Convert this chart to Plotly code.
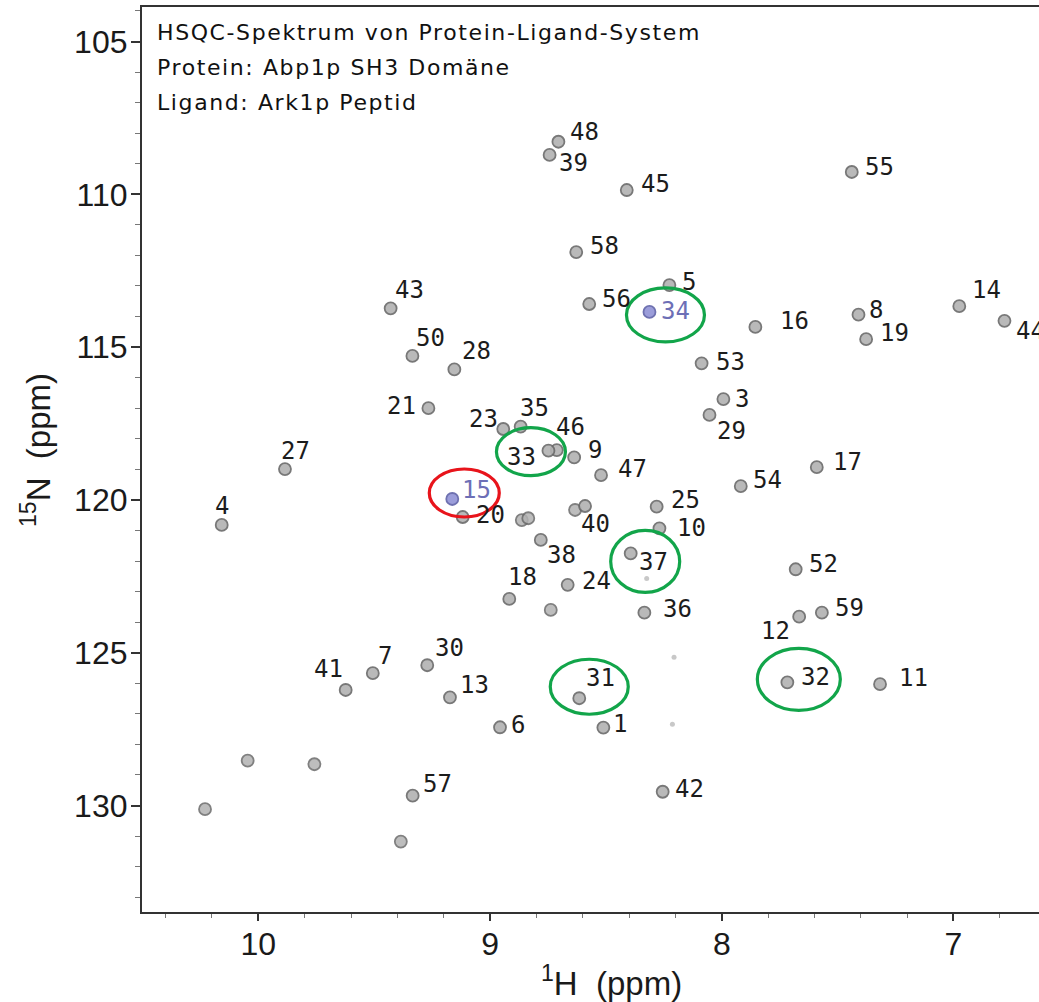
import plotly.graph_objects as go

# ---------------- data ----------------
peak_labels = ["48", "39", "45", "55", "58", "5", "56", "34", "16", "8", "19", "14", "44", "53",
               "43", "50", "28", "21", "23", "35", "46", "33", "9", "47", "27", "4", "15", "20",
               "40", "38", "18", "24", "25", "10", "37", "36", "3", "29", "54", "17", "52", "12",
               "59", "30", "41", "7", "13", "6", "57", "31", "1", "42", "32", "11"]
peak_H = [8.705, 8.743, 8.410, 7.439, 8.628, 8.226, 8.572, 8.312, 7.855, 7.410, 7.377, 6.975, 6.780, 8.087,
          9.429, 9.335, 9.154, 9.266, 8.943, 8.868, 8.712, 8.748, 8.637, 8.521, 9.885, 10.158, 9.163, 9.118,
          8.590, 8.781, 8.917, 8.665, 8.281, 8.269, 8.393, 8.334, 7.993, 8.053, 7.918, 7.590, 7.681, 7.666,
          7.568, 9.271, 9.623, 9.506, 9.173, 8.957, 9.334, 8.615, 8.511, 8.255, 7.717, 7.317]
peak_N = [108.28, 108.71, 109.86, 109.27, 111.89, 112.97, 113.59, 113.85, 114.34, 113.94, 114.74, 113.66, 114.14, 115.53,
          113.73, 115.29, 115.73, 117.00, 117.68, 117.60, 118.37, 118.39, 118.61, 119.19, 118.99, 120.82, 119.97, 120.56,
          120.20, 121.31, 123.24, 122.78, 120.22, 120.93, 121.75, 123.69, 116.70, 117.22, 119.55, 118.93, 122.27, 123.82,
          123.69, 125.41, 126.22, 125.67, 126.46, 127.44, 129.68, 126.49, 127.45, 129.55, 125.97, 126.03]

# unlabelled cross peaks
extra_H = [8.633, 8.863, 8.835, 8.738, 10.046, 9.758, 10.230, 9.385]
extra_N = [120.33, 120.66, 120.60, 123.60, 128.53, 128.65, 130.12, 131.18]

# very weak peaks
faint_H = [8.324, 8.206, 8.213]
faint_N = [122.57, 125.15, 127.34]

blue_labels = ["15", "34"]
green_marked = ["34", "33", "37", "31", "32"]
red_marked = ["15"]

x_ticks = [10, 9, 8, 7]
y_ticks = [105, 110, 115, 120, 125, 130]

info_lines = ["HSQC-Spektrum von Protein-Ligand-System",
              "Protein: Abp1p SH3 Domäne",
              "Ligand: Ark1p Peptid"]

# ---------------- layout helpers (pixel offsets of the labels) ----------------
label_offset = {
    "48": (26, -10), "39": (24, 8), "45": (29, -6), "55": (28, -5), "58": (28, -6), "5": (20, -3),
    "56": (27, -5), "34": (26, -1), "16": (39, -6), "8": (18, -5), "19": (28, -6), "14": (27, -16),
    "44": (26, 10), "53": (29, -1), "43": (19, -18), "50": (18, -18), "28": (22, -18), "21": (-27, -2),
    "23": (-20, -10), "35": (14, -19), "46": (14, -23), "33": (-27, 6), "9": (21, -7), "47": (31, -6),
    "27": (11, -18), "4": (0, -19), "15": (24, -9), "20": (28, -2), "40": (10, 18), "38": (21, 15),
    "18": (13, -22), "24": (29, -4), "25": (29, -7), "10": (32, 0), "37": (23, 9), "36": (33, -4),
    "3": (19, 0), "29": (22, 16), "54": (27, -6), "17": (31, -5), "52": (28, -5), "12": (-24, 14),
    "59": (28, -5), "30": (22, -17), "41": (-17, -21), "7": (12, -17), "13": (25, -12), "6": (18, -2),
    "57": (25, -12), "31": (21, -20), "1": (17, -4), "42": (27, -3), "32": (28, -5), "11": (33, -6),
}
# ellipse extents around marked peaks: (left, right, top, bottom) in screen pixels
ellipse_px = {
    "34": (-23, 55, -24, 30), "33": (-52, 17, -23, 25), "37": (-20, 49, -23, 39),
    "31": (-29, 49, -39, 16), "32": (-30, 53, -34, 28), "15": (-23, 47, -30, 18),
}

GRAY_FILL = "#b2b2b2"
GRAY_LINE = "#6a6a6a"
BLUE_FILL = "#9193d6"
BLUE_LINE = "#5f62a8"

fig = go.Figure()

# weak peaks
fig.add_trace(go.Scatter(x=faint_H, y=faint_N, mode="markers", hoverinfo="skip",
                         marker=dict(size=5, color="#c8c8c8", line=dict(width=0))))
# unlabelled peaks
fig.add_trace(go.Scatter(x=extra_H, y=extra_N, mode="markers", hoverinfo="skip",
                         marker=dict(size=12, color=GRAY_FILL, opacity=0.85,
                                     line=dict(width=1.8, color=GRAY_LINE))))
# labelled peaks
fills = [BLUE_FILL if l in blue_labels else GRAY_FILL for l in peak_labels]
lines = [BLUE_LINE if l in blue_labels else GRAY_LINE for l in peak_labels]
fig.add_trace(go.Scatter(x=peak_H, y=peak_N, mode="markers", text=peak_labels,
                         marker=dict(size=12, color=fills, opacity=0.9,
                                     line=dict(width=1.8, color=lines))))

# peak numbers
for lab, h, n in zip(peak_labels, peak_H, peak_N):
    dx, dy = label_offset[lab]
    fig.add_annotation(x=h, y=n, xref="x", yref="y", text=lab, showarrow=False,
                       xanchor="center", yanchor="middle", xshift=dx, yshift=-dy,
                       font=dict(family="DejaVu Sans Mono", size=24,
                                 color="#6d6fb6" if lab in blue_labels else "#1c1c1c"))

# marking ellipses
for lab, h, n in zip(peak_labels, peak_H, peak_N):
    if lab in green_marked or lab in red_marked:
        l, r, t, b = ellipse_px[lab]
        fig.add_shape(type="circle", xref="x", yref="y", xsizemode="pixel", ysizemode="pixel",
                      xanchor=h, yanchor=n, x0=l, x1=r, y0=-t, y1=-b,
                      line=dict(color="#e8141b" if lab in red_marked else "#12a54a", width=3.2),
                      fillcolor="rgba(0,0,0,0)")

# info text
for i, line in enumerate(info_lines):
    fig.add_annotation(xref="paper", yref="paper", x=0.0145, y=1 - (26 + i * 34.7) / 905,
                       xanchor="left", yanchor="middle", showarrow=False,
                       text='<span style="letter-spacing:1.6px">' + line + '</span>',
                       font=dict(family="DejaVu Sans", size=22, color="#111111"))

# axis titles
fig.add_annotation(xref="paper", yref="paper", x=0.523, y=-(981 - 912) / 905,
                   xanchor="center", yanchor="middle", showarrow=False,
                   text="<sup>1</sup>H  (ppm)",
                   font=dict(family="Liberation Sans", size=33, color="#1a1a1a"))
fig.add_annotation(xref="paper", yref="paper", x=-(142 - 36) / 897, y=1 - (450 - 7) / 905,
                   xanchor="center", yanchor="middle", showarrow=False, textangle=-90,
                   text="<sup>15</sup>N  (ppm)",
                   font=dict(family="Liberation Sans", size=33, color="#1a1a1a"))

fig.update_layout(
    width=1039, height=1002,
    margin=dict(l=142, r=0, t=7, b=90),
    paper_bgcolor="white", plot_bgcolor="white",
    showlegend=False,
    xaxis=dict(range=[10.502, 6.631], tickvals=x_ticks, ticktext=[str(v) for v in x_ticks],
               showgrid=False, zeroline=False, showline=True, mirror=True,
               linecolor="#333333", linewidth=2.2, ticks="outside", ticklen=7, tickwidth=1.5,
               tickcolor="#333333", ticklabelstandoff=-5,
               minor=dict(dtick=0.2, ticks="outside", ticklen=4, tickcolor="#777777", tickwidth=1),
               tickfont=dict(family="Liberation Sans", size=32, color="#1a1a1a")),
    yaxis=dict(range=[133.485, 103.871], tickvals=y_ticks, ticktext=[str(v) for v in y_ticks],
               showgrid=False, zeroline=False, showline=True, mirror=False,
               linecolor="#333333", linewidth=2.2, ticks="outside", ticklen=9, tickwidth=1.5,
               tickcolor="#333333", ticklabelstandoff=-3,
               minor=dict(dtick=1, ticks="outside", ticklen=5, tickcolor="#777777", tickwidth=1),
               tickfont=dict(family="Liberation Sans", size=32, color="#1a1a1a")),
)

fig.write_html("out.html")
